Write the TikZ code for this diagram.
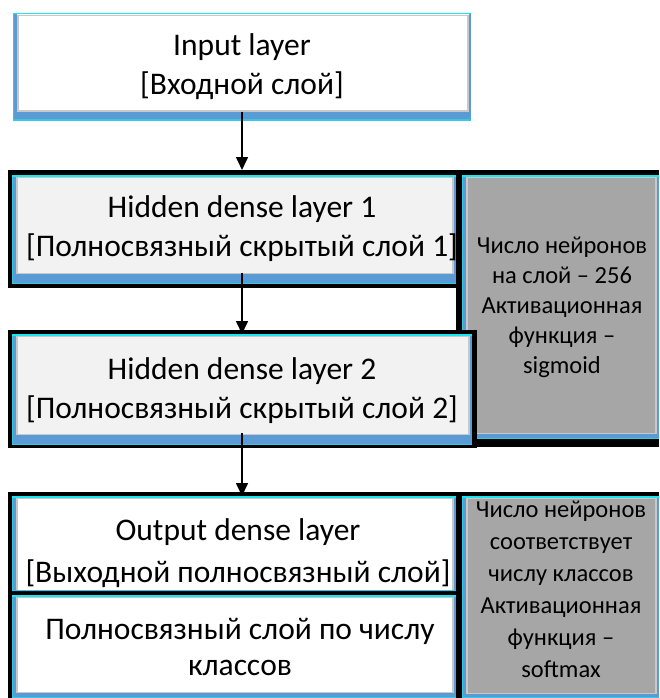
\documentclass[tikz,border=0pt]{standalone}
\usepackage{fontspec}
\setmainfont{Carlito}
\usetikzlibrary{arrows.meta}
\definecolor{bluS}{HTML}{5B9BD5}
\definecolor{cyanL}{HTML}{19E6F0}
\definecolor{lineG}{HTML}{C8C8C8}
\definecolor{hidF}{HTML}{F2F2F2}
\definecolor{grayF}{HTML}{A6A6A6}
\newcommand\winbevel[2]{%
  \draw[lineG, line width=1.5pt] ([xshift=5pt,yshift=-2.5pt]#1.north west) rectangle ([xshift=-3pt,yshift=#2pt+0.75pt]#1.south east);
  \fill[bluS] (#1.south west) rectangle ([yshift=#2pt]#1.south east);
  \fill[bluS] (#1.south west) rectangle ([xshift=4pt]#1.north west);
  \fill[cyanL!60!bluS] (#1.south west) rectangle ([xshift=1.2pt]#1.north west);
  \fill[bluS] ([xshift=-2pt]#1.south east) rectangle (#1.north east);
  \fill[cyanL] (#1.north west) rectangle ([yshift=-1.5pt]#1.north east);
  \fill[cyanL!60!bluS] (#1.south west) rectangle ([yshift=1.5pt]#1.south east);
}
\begin{document}
\begin{tikzpicture}[x=1pt,y=-1pt,
  shapebox/.style={rectangle, draw=none, inner sep=0pt, outer sep=0pt, anchor=north west},
  frame/.style={shapebox, fill=black},
  maintext/.style={align=center, font=\fontsize{31.5}{39}\selectfont, inner sep=0pt},
  sidetext/.style={align=center, font=\fontsize{24.5}{30}\selectfont, inner sep=0pt},
  arr/.style={-{Triangle[length=13pt,width=12pt]}, line width=1.6pt}]
\useasboundingbox (0,0) rectangle (659,698);
\fill[white] (0,0) rectangle (659,698);

% input layer
\node[shapebox, fill=white, minimum width=458pt, minimum height=108pt] (in) at (13,13) {};
\winbevel{in}{9}

% hidden section frames
\node[frame, minimum width=651pt, minimum height=118pt] (h1f) at (8,170) {};
\node[frame, minimum width=203pt, minimum height=277pt] (gf1) at (456,170) {};
\node[shapebox, fill=grayF, minimum width=197pt, minimum height=264pt] (g1) at (462,175) {};
\winbevel{g1}{5}
\node[shapebox, fill=hidF, minimum width=444pt, minimum height=109pt] (h1) at (12,175) {};
\winbevel{h1}{10}
\node[frame, minimum width=469pt, minimum height=118pt] (h2f) at (8,330) {};
\node[shapebox, fill=hidF, minimum width=460pt, minimum height=111pt] (h2) at (12,334) {};
\winbevel{h2}{10}

% output section
\node[frame, minimum width=651pt, minimum height=206pt] (of) at (8,492) {};
\node[shapebox, fill=white, minimum width=444pt, minimum height=95pt] (o1) at (12,496) {};
\winbevel{o1}{0}
\node[shapebox, fill=white, minimum width=444pt, minimum height=103pt] (o2) at (12,595) {};
\winbevel{o2}{5}
\node[shapebox, fill=grayF, minimum width=197pt, minimum height=202pt] (g2) at (462,496) {};
\winbevel{g2}{4}

% texts
\node[maintext] (tIn) at (242,67) {Input layer\\{[}Входной слой{]}};
\node[maintext] (tH1) at (242,229) {Hidden dense layer 1\\{[}Полносвязный скрытый слой 1{]}};
\node[maintext] (tH2) at (242,390.5) {Hidden dense layer 2\\{[}Полносвязный скрытый слой 2{]}};
\node[maintext, font=\fontsize{31.5}{42}\selectfont] (tO1) at (238,553) {Output dense layer\\{[}Выходной полносвязный слой{]}};
\node[maintext, font=\fontsize{31.5}{36}\selectfont] (tO2) at (240,646.5) {Полносвязный слой по числу\\классов};
\node[sidetext] (tG1) at (562,307.5) {Число нейронов\\на слой – 256\\Активационная\\функция –\\sigmoid};
\node[sidetext, font=\fontsize{24.5}{32}\selectfont] (tG2) at (561,589) {Число нейронов\\соответствует\\числу классов\\Активационная\\функция –\\softmax};

% arrows
\draw[arr] ([yshift=9pt]in.south) -- (in.south |- h1f.north);
\draw[arr] ([yshift=11pt]in.south |- h1.south) -- (in.south |- h2.north);
\draw[arr] ([yshift=12pt]in.south |- h2.south) -- (in.south |- o1.north);
\end{tikzpicture}
\end{document}
